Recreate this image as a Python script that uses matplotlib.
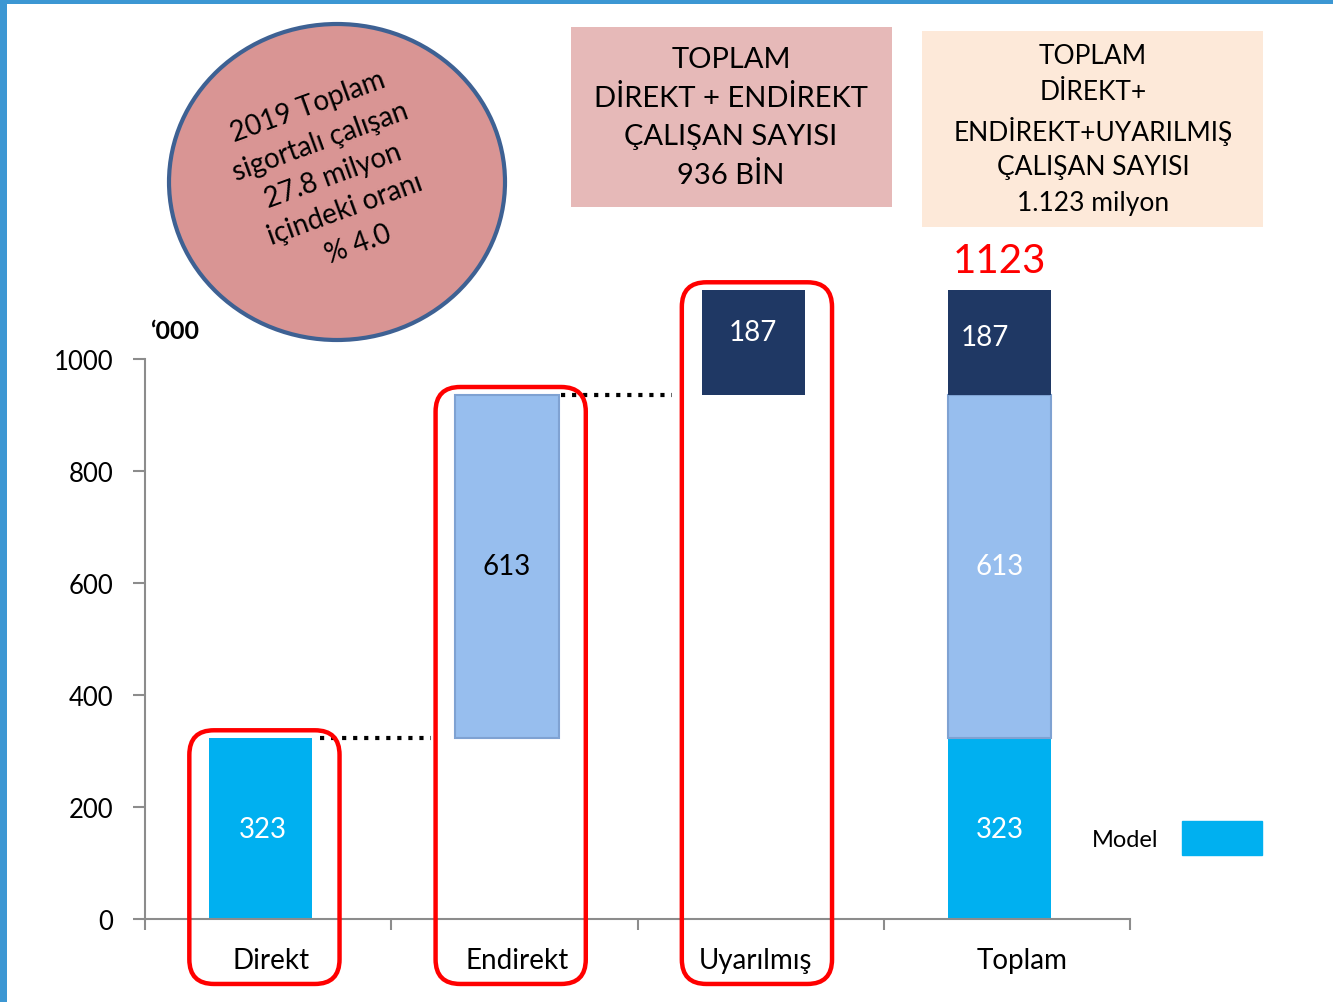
import numpy as np
import matplotlib
matplotlib.use('Agg')
import matplotlib.pyplot as plt
from matplotlib.patches import Rectangle, Ellipse, FancyBboxPatch, Patch

plt.rcParams['font.family'] = ['Lato', 'DejaVu Sans']

# Data ('000 people)
kategoriler = ['Direkt', 'Endirekt', 'Uyarılmış', 'Toplam']
direkt = 323
endirekt = 613
uyarilmis = 187
toplam = direkt + endirekt + uyarilmis
y_ticks = [0, 200, 400, 600, 800, 1000]

# Colours
c_direkt = '#00B0F0'
c_endirekt = '#97BEEE'
c_uyarilmis = '#1F3864'

fig = plt.figure(figsize=(13.33, 10.03), dpi=100)
ax = fig.add_axes([145 / 1333, 83 / 1003, 985 / 1333, 672 / 1003])
ax.set_facecolor('none')
ax.set_xlim(-0.5, 3.5)
ax.set_ylim(0, 1200)

x = np.arange(4) - 0.03
w = 0.42

# Waterfall bars
ax.bar(x[0], direkt, w, color=c_direkt)
ax.bar(x[1], endirekt, w, bottom=direkt, color=c_endirekt, edgecolor='#7FA2D2', linewidth=1.5)
ax.bar(x[2], uyarilmis, w, bottom=direkt + endirekt, color=c_uyarilmis)
# Stacked total
ax.bar(x[3], direkt, w, color=c_direkt)
ax.bar(x[3], endirekt, w, bottom=direkt, color=c_endirekt, edgecolor='#7FA2D2', linewidth=1.5)
ax.bar(x[3], uyarilmis, w, bottom=direkt + endirekt, color=c_uyarilmis)

# Value labels
fs_val = 20
ax.text(x[0] + 0.01, direkt / 2, str(direkt), color='white', ha='center', va='center', fontsize=fs_val)
ax.text(x[1], direkt + endirekt / 2, str(endirekt), color='black', ha='center', va='center', fontsize=fs_val)
ax.text(x[2], direkt + endirekt + uyarilmis * 0.6, str(uyarilmis), color='white', ha='center', va='center', fontsize=fs_val)
ax.text(x[3], direkt / 2, str(direkt), color='white', ha='center', va='center', fontsize=fs_val)
ax.text(x[3], direkt + endirekt / 2, str(endirekt), color='white', ha='center', va='center', fontsize=fs_val)
ax.text(x[3] - 0.06, direkt + endirekt + uyarilmis * 0.55, str(uyarilmis), color='white', ha='center', va='center', fontsize=fs_val)
ax.text(x[3], toplam + 20, str(toplam), color='#FF0000', ha='center', va='bottom', fontsize=29)

# Dotted connectors
ax.plot([x[0] + w / 2 + 0.03, x[1] - 0.31], [direkt, direkt], ':', color='black', lw=3, dash_capstyle='butt')
ax.plot([x[1] + w / 2 + 0.01, x[2] - 0.33], [direkt + endirekt] * 2, ':', color='black', lw=3, dash_capstyle='butt')

# Red rounded frames around the first three categories
ax_w = 985
ax_h = 672
aspect = (1200 / ax_h) / (4 / ax_w)
tepeler = [direkt, direkt + endirekt, direkt + endirekt + uyarilmis]
for i in range(3):
    box = FancyBboxPatch((x[i] - 0.29, -116), 0.61, tepeler[i] + 14 + 116,
                         boxstyle='round,pad=0,rounding_size=0.1', mutation_aspect=aspect,
                         facecolor='none', edgecolor='#FF0000', linewidth=3.2, clip_on=False, zorder=5)
    ax.add_patch(box)

# Axes styling
for s in ['top', 'right']:
    ax.spines[s].set_visible(False)
ax.spines['left'].set_bounds(0, 1000)
ax.spines['left'].set_color('#8C8C8C')
ax.spines['bottom'].set_color('#8C8C8C')
ax.spines['left'].set_linewidth(1.5)
ax.spines['bottom'].set_linewidth(1.5)
ax.set_yticks(y_ticks)
ax.set_yticklabels([str(v) for v in y_ticks], fontsize=18.5)
ax.tick_params(axis='y', length=9, width=1.5, color='#8C8C8C', pad=14)
ax.set_xticks(np.arange(4) + np.array([0.01, 0.01, -0.02, 0.06]))
ax.set_xticklabels(kategoriler, fontsize=20)
ax.tick_params(axis='x', which='major', length=0, pad=20)
ax.set_xticks(np.arange(-0.5, 4, 1), minor=True)
ax.tick_params(axis='x', which='minor', length=8, width=1.5, color='#8C8C8C', direction='out')
ax.text(-0.48, 1030, '\u2018000', fontsize=18, fontweight='bold', ha='left', va='bottom')

# Legend
ax.legend(handles=[Patch(color=c_direkt, label='Model')], markerfirst=False, frameon=False,
          fontsize=17, handlelength=3.4, handleheight=1.8, handletextpad=1.0,
          loc='center', bbox_to_anchor=(1177 / 1333, 1 - 839 / 1003), bbox_transform=fig.transFigure)

# Ellipse annotation
el = Ellipse((337 / 1333, 1 - 183 / 1003), 336 / 1333, 316 / 1003, transform=fig.transFigure,
             facecolor='#D99594', edgecolor='#3E6193', linewidth=3)
fig.patches.append(el)
fig.text(333 / 1333, 1 - 176 / 1003, '2019 Toplam\nsigortalı çalışan\n27.8 milyon\niçindeki oranı\n% 4.0',
         rotation=20, ha='center', va='center', multialignment='center', fontsize=20,
         linespacing=1.5, rotation_mode='anchor')

# Summary boxes
fig.patches.append(Rectangle((571 / 1333, 1 - 208 / 1003), 321 / 1333, 180 / 1003,
                             transform=fig.transFigure, facecolor='#E6B9B8', edgecolor='none'))
fig.text(731 / 1333, 1 - 118 / 1003, 'TOPLAM\nDİREKT + ENDİREKT\nÇALIŞAN SAYISI\n936 BİN',
         ha='center', va='center', multialignment='center', fontsize=21, linespacing=1.55)
fig.patches.append(Rectangle((922 / 1333, 1 - 228 / 1003), 341 / 1333, 196 / 1003,
                             transform=fig.transFigure, facecolor='#FDE9D9', edgecolor='none'))
fig.text(1093 / 1333, 1 - 130 / 1003, 'TOPLAM\nDİREKT+\nENDİREKT+UYARILMIŞ\nÇALIŞAN SAYISI\n1.123 milyon',
         ha='center', va='center', multialignment='center', fontsize=19, linespacing=1.5)

# Blue frame on the slide edges
fig.patches.append(Rectangle((0, 0), 7 / 1333, 1, transform=fig.transFigure, facecolor='#3C97D3', edgecolor='none'))
fig.patches.append(Rectangle((0, 1 - 5 / 1003), 1, 5 / 1003, transform=fig.transFigure, facecolor='#3C97D3', edgecolor='none'))

fig.savefig('out.png', dpi=100)
